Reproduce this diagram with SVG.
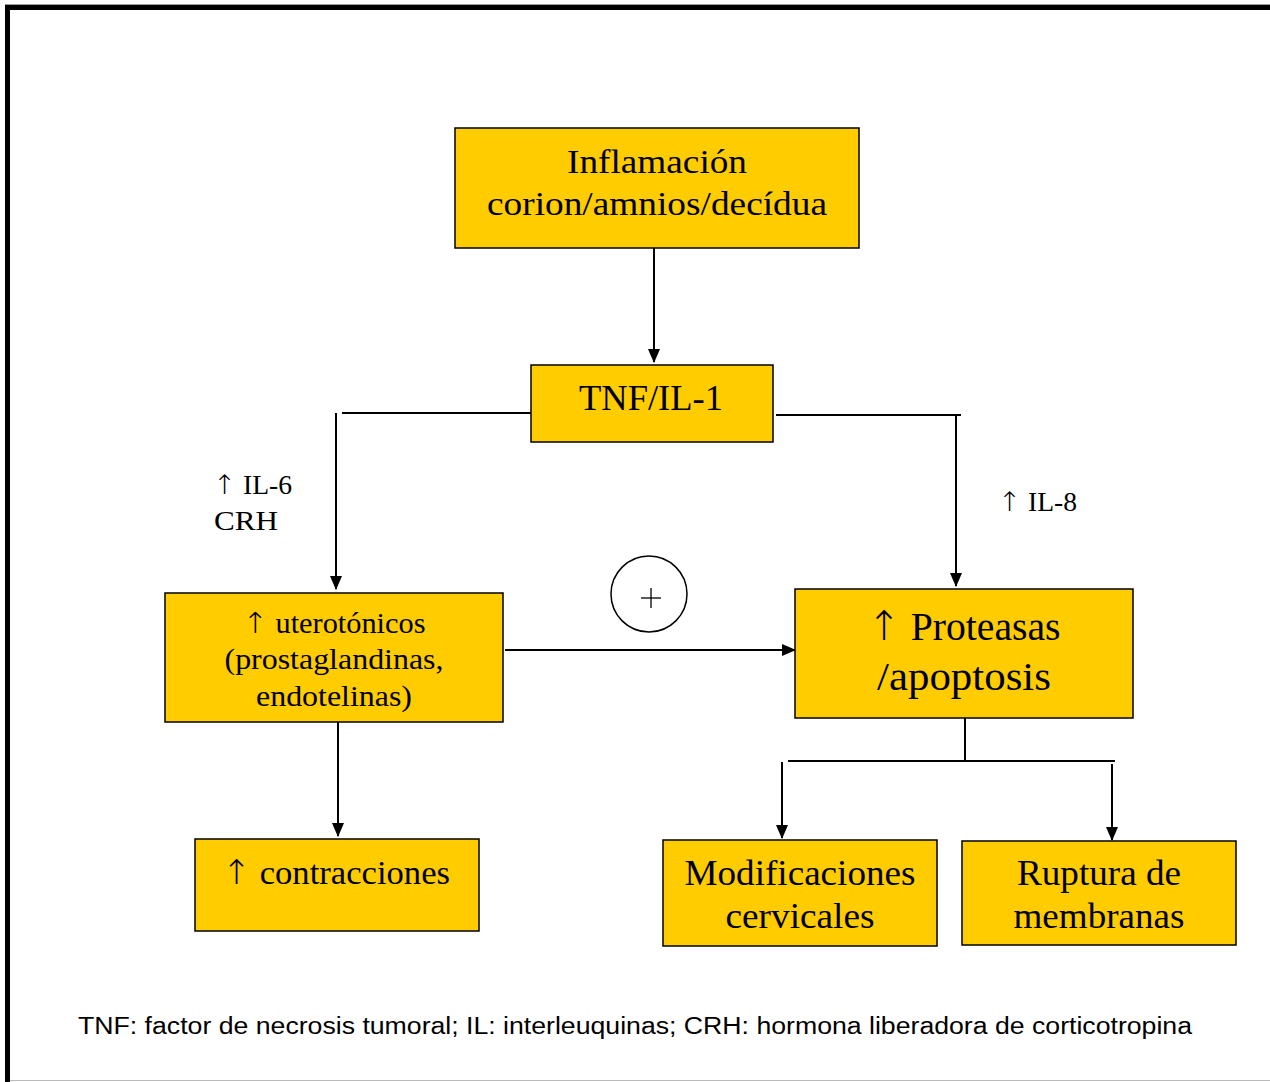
<svg xmlns="http://www.w3.org/2000/svg" width="1270" height="1082" viewBox="0 0 1270 1082">
  <style>
    .box { fill: #FFCC00; stroke: #000; stroke-width: 1.5; }
    .t { font-family: "Liberation Serif", "Times New Roman", serif; fill: #000; text-anchor: middle; }
    .lbl { font-family: "Liberation Serif", "Times New Roman", serif; fill: #000; font-size: 27px; }
    .up { font-family: "DejaVu Sans", sans-serif; font-weight: 200; }
    .ln { stroke: #000; stroke-width: 2; fill: none; }
    .foot { font-family: "Liberation Sans", Arial, sans-serif; font-size: 23px; fill: #000; }
  </style>
  <defs>
    <marker id="arr" markerWidth="14" markerHeight="12" refX="13" refY="6" orient="auto" markerUnits="userSpaceOnUse">
      <path d="M0,0 L14,6 L0,12 Z" fill="#000"/>
    </marker>
  </defs>
  <rect x="0" y="0" width="1270" height="1082" fill="#fff"/>

  <!-- page frame -->
  <g id="frame">
    <line x1="5" y1="4.5" x2="1270" y2="4.5" stroke="#999" stroke-width="1"/>
    <line x1="5" y1="7.5" x2="1270" y2="7.5" stroke="#000" stroke-width="5"/>
    <line x1="7.5" y1="5" x2="7.5" y2="1082" stroke="#000" stroke-width="5"/>
    <line x1="10" y1="1080.5" x2="1270" y2="1080.5" stroke="#bbb" stroke-width="1"/>
  </g>

  <!-- connectors -->
  <g id="connectors">
    <line class="ln" x1="654" y1="248" x2="654" y2="362" marker-end="url(#arr)"/>
    <polyline class="ln" points="531,413 342,413"/>
    <line class="ln" x1="336" y1="413" x2="336" y2="589" marker-end="url(#arr)"/>
    <polyline class="ln" points="776,415 961,415"/>
    <line class="ln" x1="956" y1="415" x2="956" y2="586" marker-end="url(#arr)"/>
    <line class="ln" x1="505" y1="650" x2="795" y2="650" marker-end="url(#arr)"/>
    <line class="ln" x1="338" y1="722" x2="338" y2="836" marker-end="url(#arr)"/>
    <line class="ln" x1="965" y1="718" x2="965" y2="761"/>
    <line class="ln" x1="788" y1="761" x2="1115" y2="761"/>
    <line class="ln" x1="782" y1="762" x2="782" y2="838" marker-end="url(#arr)"/>
    <line class="ln" x1="1112" y1="764" x2="1112" y2="840" marker-end="url(#arr)"/>
  </g>

  <g id="inflamacion">
    <rect class="box" x="455" y="128" width="404" height="120"/>
    <text class="t" x="657" y="173" font-size="33" textLength="180" lengthAdjust="spacingAndGlyphs">Inflamación</text>
    <text class="t" x="657" y="215" font-size="33" textLength="340" lengthAdjust="spacingAndGlyphs">corion/amnios/decídua</text>
  </g>

  <g id="tnf">
    <rect class="box" x="531" y="365" width="242" height="77"/>
    <text class="t" x="651" y="410" font-size="35" textLength="144" lengthAdjust="spacingAndGlyphs">TNF/IL-1</text>
  </g>

  <g id="label-il6">
    <text class="lbl" x="213" y="494" textLength="79" lengthAdjust="spacingAndGlyphs"><tspan class="up">↑</tspan> IL-6</text>
    <text class="lbl" x="214" y="530" textLength="64" lengthAdjust="spacingAndGlyphs">CRH</text>
  </g>

  <g id="label-il8">
    <text class="lbl" x="998" y="511" textLength="79" lengthAdjust="spacingAndGlyphs"><tspan class="up">↑</tspan> IL-8</text>
  </g>

  <g id="uterotonicos">
    <rect class="box" x="165" y="593" width="338" height="129"/>
    <text class="t" x="334" y="633" font-size="29" textLength="183" lengthAdjust="spacingAndGlyphs"><tspan class="up">↑</tspan> uterotónicos</text>
    <text class="t" x="334" y="669" font-size="29" textLength="219" lengthAdjust="spacingAndGlyphs">(prostaglandinas,</text>
    <text class="t" x="334" y="706" font-size="29" textLength="156" lengthAdjust="spacingAndGlyphs">endotelinas)</text>
  </g>

  <g id="plus">
    <circle cx="649" cy="594" r="38" fill="#fff" stroke="#000" stroke-width="1.5"/>
    <line x1="641" y1="598" x2="661" y2="598" stroke="#000" stroke-width="1.3"/>
    <line x1="651" y1="588" x2="651" y2="608" stroke="#000" stroke-width="1.3"/>
  </g>

  <g id="proteasas">
    <rect class="box" x="795" y="589" width="338" height="129"/>
    <text class="t" x="964" y="640" font-size="41" textLength="193" lengthAdjust="spacingAndGlyphs"><tspan class="up">↑</tspan> Proteasas</text>
    <text class="t" x="964" y="690" font-size="41" textLength="174" lengthAdjust="spacingAndGlyphs">/apoptosis</text>
  </g>

  <g id="contracciones">
    <rect class="box" x="195" y="839" width="284" height="92"/>
    <text class="t" x="336" y="884" font-size="34" textLength="228" lengthAdjust="spacingAndGlyphs"><tspan class="up">↑</tspan> contracciones</text>
  </g>

  <g id="modificaciones">
    <rect class="box" x="663" y="840" width="274" height="106"/>
    <text class="t" x="800" y="885" font-size="35" textLength="231" lengthAdjust="spacingAndGlyphs">Modificaciones</text>
    <text class="t" x="800" y="928" font-size="35" textLength="149" lengthAdjust="spacingAndGlyphs">cervicales</text>
  </g>

  <g id="ruptura">
    <rect class="box" x="962" y="841" width="274" height="104"/>
    <text class="t" x="1099" y="885" font-size="35" textLength="164" lengthAdjust="spacingAndGlyphs">Ruptura de</text>
    <text class="t" x="1099" y="928" font-size="35" textLength="171" lengthAdjust="spacingAndGlyphs">membranas</text>
  </g>

  <g id="footnote">
    <text class="foot" x="78" y="1034" textLength="1114" lengthAdjust="spacingAndGlyphs">TNF: factor de necrosis tumoral; IL: interleuquinas; CRH: hormona liberadora de corticotropina</text>
  </g>
</svg>
